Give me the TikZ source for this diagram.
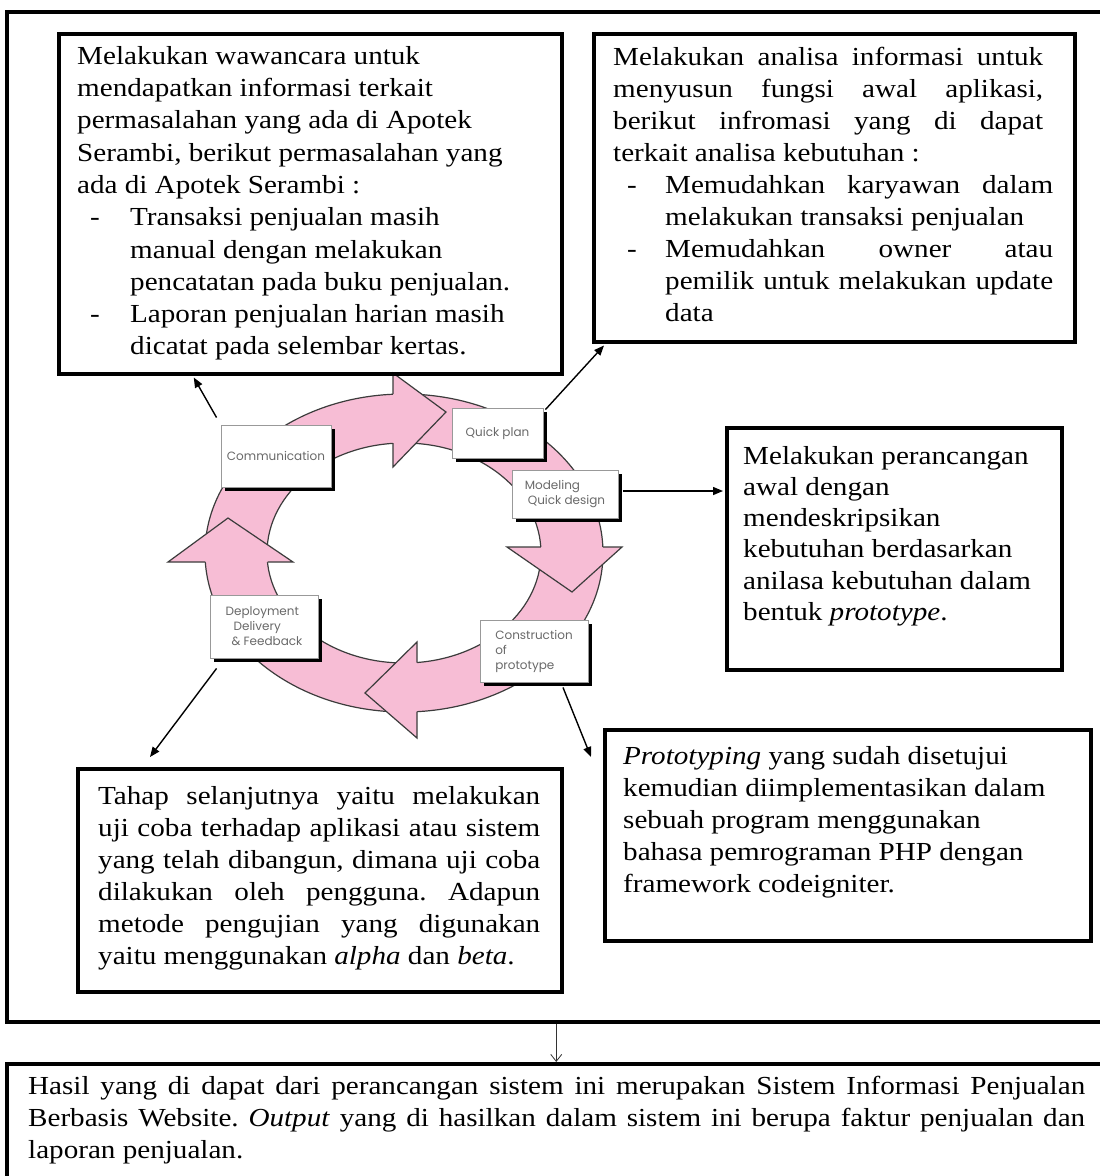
\documentclass[tikz,border=0pt]{standalone}
\usepackage{fontspec}
\setmainfont{Liberation Serif}[FakeStretch=1.12]
\newfontfamily\cycfont{Poppins}
\usetikzlibrary{arrows.meta,shadows,calc}
\definecolor{ringpink}{RGB}{247,189,213}
\definecolor{ringedge}{RGB}{60,60,60}
\definecolor{labgray}{RGB}{105,105,105}
\newcommand{\bodysize}[1]{\fontsize{26}{#1}\selectfont}
\frenchspacing
\begin{document}
\frenchspacing
\begin{tikzpicture}[x=1pt,y=-1pt,
  bigbox/.style={draw=black, line width=3.5pt, inner sep=0pt, anchor=north west},
  txt/.style={inner sep=0pt, anchor=north west, align=left},
  lab/.style={draw=gray!80, line width=0.9pt, fill=white, inner sep=0pt,
    drop shadow={shadow xshift=4pt, shadow yshift=-4pt, fill=black, opacity=1},
    font=\cycfont\fontsize{12}{15}\selectfont, text=labgray},
  conn/.style={line width=1.4pt, -{Triangle[length=10pt,width=8pt]}},
  ringline/.style={draw=ringedge, line width=1.2pt},
  headline/.style={draw=ringedge, line width=1.2pt, line join=miter}
]
\useasboundingbox (0,0) rectangle (1100,1176);
\clip (0,0) rectangle (1100,1176);
\fill[white] (0,0) rectangle (1100,1176);

% outer frame and result box
\node[bigbox, minimum width=1099pt, minimum height=1010pt] (frame) at (5,10) {};
\node[bigbox, minimum width=1099pt, minimum height=130pt] (final) at (5,1062) {};

% pink ring
\fill[ringpink, even odd rule] (404,553) ellipse [x radius=199, y radius=159]
  (404,553) ellipse [x radius=137, y radius=110];
\draw[ringline] (404,553) ellipse [x radius=199, y radius=159];
\draw[ringline] (404,553) ellipse [x radius=137, y radius=110];
% arrow heads
\fill[ringpink] (393,373) -- (446,412) -- (393,467) -- cycle;
\draw[headline] (393,394) -- (393,373) -- (446,412) -- (393,467) -- (393,443);
\fill[ringpink] (507,547) -- (572,592) -- (622,547) -- cycle;
\draw[headline] (540.8,547) -- (507,547) -- (572,592) -- (622,547) -- (602.9,547);
\fill[ringpink] (417,642) -- (365,693) -- (417,738) -- cycle;
\draw[headline] (417,662.5) -- (417,642) -- (365,693) -- (417,738) -- (417,711.7);
\fill[ringpink] (168,562) -- (228,518) -- (293,562) -- cycle;
\draw[headline] (205.3,562) -- (168,562) -- (228,518) -- (293,562) -- (267.5,562);

% stage labels
\node[lab, minimum width=110pt, minimum height=62pt] (comm) at (276,456) {Communication};
\node[lab, minimum width=91pt, minimum height=50pt] (qplan) at (497.5,433) {Quick plan};
\node[lab, minimum width=106pt, minimum height=48pt, align=left] (model) at (565,494) {Modeling\\\hspace*{3pt}Quick design};
\node[lab, minimum width=108pt, minimum height=62pt, align=left] (constr) at (534,651) {Construction\\of\\prototype};
\node[lab, minimum width=108pt, minimum height=63pt, align=left] (deploy) at (264,626.5) {Deployment\\\hspace*{8pt}Delivery\\\hspace*{6pt}\& Feedback};

% text boxes
\node[bigbox, minimum width=503pt, minimum height=340pt] (b1) at (57,32) {};
\node[bigbox, minimum width=481pt, minimum height=308pt] (b2) at (592,32) {};
\node[bigbox, minimum width=335pt, minimum height=242pt] (b3) at (725,426) {};
\node[bigbox, minimum width=486pt, minimum height=211pt] (b4) at (603,728) {};
\node[bigbox, minimum width=484pt, minimum height=223pt] (b5) at (76,767) {};

\node[txt, font=\bodysize{32.3}] (t1) at (77,41.4) {\strut Melakukan wawancara untuk\\
mendapatkan informasi terkait\\
permasalahan yang ada di Apotek\\
Serambi, berikut permasalahan yang\\
ada di Apotek Serambi :\\
\hspace*{13pt}\makebox[40pt][l]{-}Transaksi penjualan masih\\
\hspace*{53pt}manual dengan melakukan\\
\hspace*{53pt}pencatatan pada buku penjualan.\\
\hspace*{13pt}\makebox[40pt][l]{-}Laporan penjualan harian masih\\
\hspace*{53pt}dicatat pada selembar kertas.};

\node[txt, font=\bodysize{32}] (t2) at (613,42.6) {\strut\makebox[430pt][s]{Melakukan analisa informasi untuk}\\
\makebox[430pt][s]{menyusun fungsi awal aplikasi,}\\
\makebox[430pt][s]{berikut infromasi yang di dapat}\\
terkait analisa kebutuhan :\\
\hspace*{14pt}\makebox[38pt][l]{-}\makebox[388pt][s]{Memudahkan karyawan dalam}\\
\hspace*{52pt}melakukan transaksi penjualan\\
\hspace*{14pt}\makebox[38pt][l]{-}\makebox[388pt][s]{Memudahkan owner atau}\\
\hspace*{52pt}\makebox[388pt][s]{pemilik untuk melakukan update}\\
\hspace*{52pt}data};

\node[txt, font=\bodysize{31.2}] (t3) at (743,442.2) {\strut Melakukan perancangan\\
awal dengan\\
mendeskripsikan\\
kebutuhan berdasarkan\\
anilasa kebutuhan dalam\\
bentuk \textit{prototype}.};

\node[txt, font=\bodysize{32}] (t4) at (623,741.6) {\strut\textit{Prototyping} yang sudah disetujui\\
kemudian diimplementasikan dalam\\
sebuah program menggunakan\\
bahasa pemrograman PHP dengan\\
framework codeigniter.};

\node[txt, font=\bodysize{32}] (t5) at (98,781.6) {\strut\makebox[442pt][s]{Tahap selanjutnya yaitu melakukan}\\
\makebox[442pt][s]{uji coba terhadap aplikasi atau sistem}\\
\makebox[442pt][s]{yang telah dibangun, dimana uji coba}\\
\makebox[442pt][s]{dilakukan oleh pengguna. Adapun}\\
\makebox[442pt][s]{metode pengujian yang digunakan}\\
yaitu menggunakan \textit{alpha} dan \textit{beta}.};

\node[txt, font=\bodysize{32}] (t6) at (28,1071.6) {\strut\makebox[1057pt][s]{Hasil yang di dapat dari perancangan sistem ini merupakan Sistem Informasi Penjualan}\\
\makebox[1057pt][s]{Berbasis Website. \textit{Output} yang di hasilkan dalam sistem ini berupa faktur penjualan dan}\\
laporan penjualan.};

% connectors
\draw[conn] ($(comm.north west)+(-4,-7)$) -- ($(b1.south west)!0.27!(b1.south east)+(0,2)$);
\draw[conn] ($(qplan.north east)+(2,2)$) -- ($(b2.south west)+(12,2)$);
\draw[conn] ($(model.east)+(5,-3)$) -- ($(b3.north west)+(-2,65)$);
\coordinate (e4) at (591,757);
\draw[conn] ($(constr.south)+(29,5)$) -- (e4);
\coordinate (e5) at (150,757);
\draw[conn] ($(deploy.south west)+(7,10)$) -- (e5);
\draw[line width=0.8pt, draw=black!80, -{Straight Barb[length=7pt,width=11pt]}] (frame.south) -- (final.north);
\end{tikzpicture}
\end{document}
